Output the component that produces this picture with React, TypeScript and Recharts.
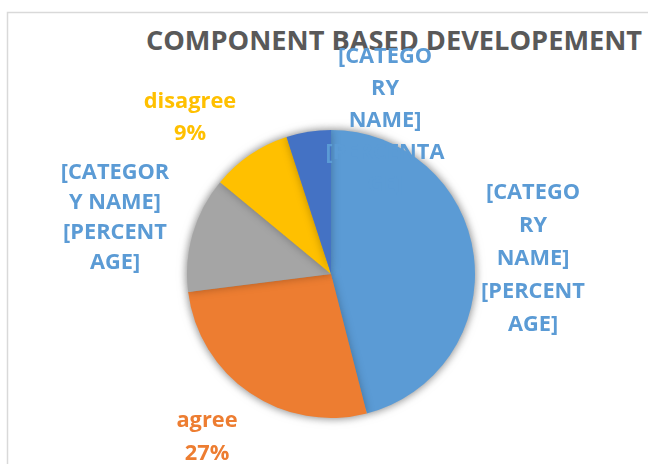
import { PieChart, Pie, Cell } from "recharts";

const categories = ["[CATEGORY NAME]", "agree", "[CATEGORY NAME]", "disagree", "[CATEGORY NAME]"];
const values = [46, 27, 13, 9, 5];
const colors = ["#5B9BD5", "#ED7D31", "#A5A5A5", "#FFC000", "#4472C4"];
const labelColors = ["#5B9BD5", "#ED7D31", "#5B9BD5", "#FFC000", "#5B9BD5"];
// Excel's wrapped placeholder labels (null = "name / pct%")
const wrappedLabels: (string[] | null)[] = [
  ["[CATEGO", "RY", "NAME]", "[PERCENT", "AGE]"],
  null,
  ["[CATEGOR", "Y NAME]", "[PERCENT", "AGE]"],
  null,
  ["[CATEGO", "RY", "NAME]", "[PERCENTA", "GE]"],
];

const data = categories.map((name, i) => ({ name, value: values[i] }));

// label block placement relative to the pie centre: [dx, dy, lineGap]
const labelLayout = [
  [202, -17, 33],
  [-124, 162, 33],
  [-216, -58, 30],
  [-141, -158, 32],
  [54, -155, 32],
];

const FONT = "'Open Sans', sans-serif";
const CX = 331;
const CY = 274;
const R = 144;

const renderLabel = (props: any) => {
  const { cx, cy, index, name, percent } = props;
  const lines = wrappedLabels[index] ?? [name, `${Math.round(percent * 100)}%`];
  const [dx, dy, gap] = labelLayout[index];
  const x = cx + dx;
  const top = cy + dy - ((lines.length - 1) * gap) / 2;
  return (
    <text
      x={x}
      y={top}
      textAnchor="middle"
      fill={labelColors[index]}
      fontFamily={FONT}
      fontWeight={700}
      fontSize={21.8}
    >
      {lines.map((l, i) => (
        <tspan key={i} x={x} y={top + i * gap + 7.8}>
          {l}
        </tspan>
      ))}
    </text>
  );
};

export default function App() {
  return (
    <div style={{ position: "absolute", left: 0, top: 0, width: 648, height: 464, background: "#fff", overflow: "hidden" }}>
      <style>{`.main-pie { filter: drop-shadow(0 0 4px rgba(0,0,0,0.28)); }`}</style>
      <svg width={648} height={464} style={{ position: "absolute", left: 0, top: 0 }}>
        <path d="M7.5 464 V12.5 H648" fill="none" stroke="#D9D9D9" strokeWidth={1.5} />
        <text x={394} y={50} textAnchor="middle" fill="#595959" fontFamily={FONT} fontWeight={700} fontSize={27.2}>
          COMPONENT BASED DEVELOPEMENT
        </text>
      </svg>
      <div style={{ position: "absolute", left: 0, top: 0 }}>
        <PieChart width={648} height={464} margin={{ top: 0, right: 0, bottom: 0, left: 0 }}>
          <Pie
            data={data}
            dataKey="value"
            nameKey="name"
            cx={CX}
            cy={CY}
            outerRadius={R}
            startAngle={90}
            endAngle={-270}
            fill="none"
            stroke="none"
            label={renderLabel}
            labelLine={false}
            isAnimationActive={false}
          />
          <Pie
            className="main-pie"
            data={data}
            dataKey="value"
            nameKey="name"
            cx={CX}
            cy={CY}
            outerRadius={R}
            startAngle={90}
            endAngle={-270}
            stroke="none"
            isAnimationActive={false}
          >
            {data.map((d, i) => (
              <Cell key={d.name + i} fill={colors[i]} />
            ))}
          </Pie>
        </PieChart>
      </div>
    </div>
  );
}
